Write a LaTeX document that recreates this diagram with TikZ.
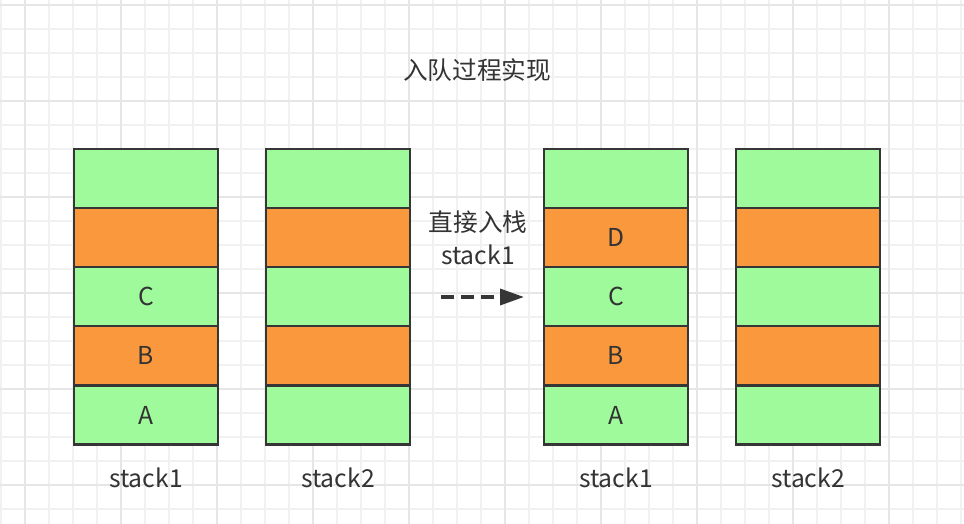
\documentclass[tikz,border=0pt]{standalone}
\usepackage{fontspec}
\setmainfont{Noto Sans CJK SC}
\usetikzlibrary{arrows.meta}
\definecolor{cgreen}{HTML}{9EFA9A}
\definecolor{corange}{HTML}{FA983E}
\definecolor{cstroke}{HTML}{363636}
\definecolor{gminor}{HTML}{F1F1F1}
\definecolor{gmajor}{HTML}{E6E6E6}
\definecolor{ctext}{HTML}{333333}
\tikzset{
  cellg/.style={draw=cstroke, fill=cgreen, line width=1.9pt, minimum width=144*0.75pt, minimum height=59*0.75pt, inner sep=0pt, outer sep=0pt, text=ctext, font=\fontsize{18.5}{22}\selectfont},
  cello/.style={cellg, fill=corange},
  lbl/.style={text=ctext, font=\fontsize{18.5}{22}\selectfont, inner sep=0pt},
}
\begin{document}
\begin{tikzpicture}[x=0.75pt,y=-0.75pt]
\useasboundingbox (0,0) rectangle (964,524);
\fill[white] (0,0) rectangle (964,524);
% grid
\foreach \i in {0,...,40} {\draw[gminor, line width=1.2pt] ({1+24*\i},0) -- ({1+24*\i},524);}
\foreach \i in {0,...,21} {\draw[gminor, line width=1.2pt] (0,{5+24*\i}) -- (964,{5+24*\i});}
\foreach \i in {0,...,9} {\draw[gmajor, line width=1.2pt] ({25+96*\i},0) -- ({25+96*\i},524);}
\foreach \i in {0,...,5} {\draw[gmajor, line width=1.2pt] (0,{5+96*\i}) -- (964,{5+96*\i});}
% title
\node[lbl] (title) at (477,70) {入队过程实现};
% stacks
\foreach \n/\x in {a/146,b/338,c/616,d/808} {
  \node[cellg] (\n1) at (\x,178.5) {};
  \node[cello] (\n2) at (\x,237.5) {};
  \node[cellg] (\n3) at (\x,296.5) {};
  \node[cello] (\n4) at (\x,355.5) {};
  \node[cellg] (\n5) at (\x,415) {};
}
\node[lbl] at (a3) {C};
\node[lbl] at (a4) {B};
\node[lbl] at (a5) {A};
\node[lbl] at (c2) {D};
\node[lbl] at (c3) {C};
\node[lbl] at (c4) {B};
\node[lbl] at (c5) {A};
% labels
\node[lbl] (la) at (146,478) {stack1};
\node[lbl] (lb) at (338,478) {stack2};
\node[lbl] (lc) at (616,478) {stack1};
\node[lbl] (ld) at (808,478) {stack2};
\node[lbl, align=center] (op) at (478,238) {直接入栈\\[3pt]stack1};
\coordinate (s) at (441,297);
\coordinate (e) at (524,297);
\draw[cstroke, line width=2.6pt, dash pattern=on 10pt off 5pt, -{Triangle[length=18pt,width=12pt]}] (s) -- (e);
\end{tikzpicture}
\end{document}
